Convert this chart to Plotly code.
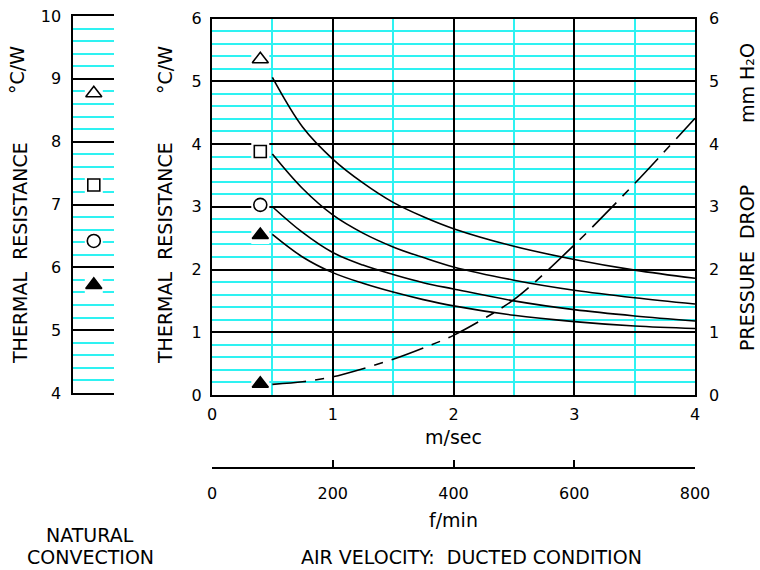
import plotly.graph_objects as go

# ---------------- data ----------------
vel_ms = [0.5, 0.75, 1.0, 1.25, 1.5, 1.75, 2.0, 2.5, 3.0, 3.5, 4.0]
rth_tri_open = [5.06, 4.27, 3.76, 3.38, 3.07, 2.84, 2.65, 2.37, 2.16, 1.99, 1.86]
rth_square = [3.84, 3.29, 2.87, 2.58, 2.36, 2.19, 2.04, 1.83, 1.67, 1.55, 1.45]
rth_circle = [3.00, 2.59, 2.27, 2.07, 1.92, 1.79, 1.69, 1.50, 1.36, 1.26, 1.18]
rth_tri_fill = [2.56, 2.20, 1.95, 1.78, 1.64, 1.52, 1.42, 1.27, 1.17, 1.10, 1.06]
pressure_drop = [0.17, 0.21, 0.29, 0.42, 0.57, 0.75, 0.95, 1.52, 2.39, 3.37, 4.41]

key_x = [0.4, 0.4, 0.4, 0.4, 0.4]
key_values = [5.35, 3.88, 3.03, 2.55, 0.18]
key_symbols = ["triangle-up-open", "square-open", "circle-open", "triangle-up", "triangle-up"]
key_sizes = [14, 12, 13, 14, 14]

nat_x = [0.5, 0.5, 0.5, 0.5]
nat_values = [8.77, 7.31, 6.42, 5.72]
nat_symbols = ["triangle-up-open", "square-open", "circle-open", "triangle-up"]
nat_sizes = [14, 12, 13, 14]

ms_ticks = [0, 1, 2, 3, 4]
fmin_ticks = [0, 200, 400, 600, 800]

# ---------------- helpers ----------------
W, H = 760, 570
FONT = "DejaVu Sans"
CYAN = "#2EF2F2"


def px(x):
    return x / W


def py(y):
    return 1 - y / H


fig = go.Figure()

# curves
for vals in [rth_tri_open, rth_square, rth_circle, rth_tri_fill]:
    fig.add_trace(go.Scatter(x=vel_ms, y=vals, mode="lines", xaxis="x", yaxis="y",
                             line=dict(color="black", width=1.6, shape="spline", smoothing=1.0),
                             showlegend=False, hoverinfo="skip"))

fig.add_trace(go.Scatter(x=vel_ms, y=pressure_drop, mode="lines", xaxis="x", yaxis="y4",
                         line=dict(color="black", width=1.6, shape="spline", smoothing=0.8,
                                   dash="34px,9px,9px,9px"),
                         showlegend=False, hoverinfo="skip"))

# key markers with white backing
fig.add_trace(go.Scatter(x=key_x, y=key_values, mode="markers", xaxis="x", yaxis="y",
                         marker=dict(symbol="square", size=18, color="white", opacity=1,
                                     line=dict(width=0)),
                         showlegend=False, hoverinfo="skip"))
fig.add_trace(go.Scatter(x=key_x, y=key_values, mode="markers", xaxis="x", yaxis="y",
                         marker=dict(symbol=key_symbols, size=key_sizes, color="black", opacity=1,
                                     line=dict(color="black", width=1.6)),
                         showlegend=False, hoverinfo="skip"))

fig.add_trace(go.Scatter(x=nat_x, y=nat_values, mode="markers", xaxis="x2", yaxis="y2",
                         marker=dict(symbol="square", size=18, color="white", opacity=1,
                                     line=dict(width=0)),
                         showlegend=False, hoverinfo="skip"))
fig.add_trace(go.Scatter(x=nat_x, y=nat_values, mode="markers", xaxis="x2", yaxis="y2",
                         marker=dict(symbol=nat_symbols, size=nat_sizes, color="black", opacity=1,
                                     line=dict(color="black", width=1.6)),
                         showlegend=False, hoverinfo="skip"))

# dummy trace for the f/min scale
fig.add_trace(go.Scatter(x=[None], y=[None], xaxis="x3", yaxis="y3", mode="markers",
                         showlegend=False, hoverinfo="skip"))

tickfont = dict(family=FONT, size=16, color="black")

main_x_dom = [px(212), px(695)]

fig.update_layout(
    template="none",
    width=W, height=H,
    margin=dict(l=0, r=0, t=0, b=0, pad=0, autoexpand=False),
    paper_bgcolor="white", plot_bgcolor="white",
    font=dict(family=FONT, size=16, color="black"),
    hovermode=False,
    xaxis=dict(domain=main_x_dom, anchor="y", range=[0, 4], tickvals=ms_ticks,
               showgrid=True, gridcolor="black", gridwidth=1.8,
               minor=dict(dtick=0.5, showgrid=True, gridcolor=CYAN, gridwidth=1.6),
               showline=True, linecolor="black", linewidth=2, mirror=True, automargin=False,
               ticks="", zeroline=False, tickfont=tickfont, ticklabelstandoff=4),
    yaxis=dict(domain=[py(395), py(18.5)], anchor="x", range=[0, 6], dtick=1,
               showgrid=True, gridcolor="black", gridwidth=1.8,
               minor=dict(dtick=0.2, showgrid=True, gridcolor=CYAN, gridwidth=1.6),
               showline=True, linecolor="black", linewidth=2, mirror=True, automargin=False,
               ticks="", zeroline=False, tickfont=tickfont, ticklabelstandoff=5),
    yaxis4=dict(overlaying="y", side="right", anchor="x", range=[0, 6], dtick=1,
                showgrid=False, zeroline=False, showline=False, ticks="", automargin=False,
                tickfont=tickfont, ticklabelstandoff=13),
    xaxis2=dict(domain=[px(73.3), px(114.3)], anchor="y2", range=[0, 1],
                showticklabels=False, showgrid=False, zeroline=False, automargin=False,
                showline=True, linecolor="black", linewidth=2, mirror=True, ticks=""),
    yaxis2=dict(domain=[py(393), py(16)], anchor="x2", range=[4, 10], dtick=1,
                showgrid=True, gridcolor="black", gridwidth=1.8,
                minor=dict(dtick=0.2, showgrid=True, gridcolor=CYAN, gridwidth=1.6),
                showline=True, linecolor="black", linewidth=2, mirror=False, automargin=False,
                ticks="", zeroline=False, tickfont=tickfont, ticklabelstandoff=7),
    xaxis3=dict(domain=main_x_dom, anchor="y3", range=[0, 800], tickvals=fmin_ticks,
                showgrid=False, zeroline=False, showline=True, linecolor="black",
                linewidth=1.6, ticks="inside", ticklen=7, tickwidth=1.6, tickcolor="black",
                automargin=False, tickfont=tickfont, ticklabelstandoff=11),
    yaxis3=dict(domain=[py(467), py(458)], anchor="x3", range=[0, 1], visible=False,
                automargin=False),
)

NB = "\u00a0"
TITLE = 19
ann = [
    dict(x=px(20), y=py(253), text=f"THERMAL{NB}{NB}RESISTANCE", textangle=-90),
    dict(x=px(17), y=py(70), text="°C/W", textangle=-90),
    dict(x=px(165), y=py(253), text=f"THERMAL{NB}{NB}RESISTANCE", textangle=-90),
    dict(x=px(165), y=py(70), text="°C/W", textangle=-90),
    dict(x=px(747), y=py(268), text=f"PRESSURE{NB}{NB}DROP", textangle=-90),
    dict(x=px(747), y=py(83), text="mm H₂O", textangle=-90),
    dict(x=px(453), y=py(437), text="m/sec"),
    dict(x=px(453), y=py(520), text="f/min"),
    dict(x=px(471), y=py(557), text=f"AIR VELOCITY:{NB}{NB}DUCTED CONDITION"),
    dict(x=px(90), y=py(535), text="NATURAL"),
    dict(x=px(90), y=py(557), text="CONVECTION"),
]
for a in ann:
    a.update(xref="paper", yref="paper", showarrow=False, xanchor="center", yanchor="middle",
             font=dict(family=FONT, size=TITLE, color="black"))
fig.update_layout(annotations=ann)

fig.write_html("out.html", config={"responsive": False, "displayModeBar": False},
               post_script="document.body.style.margin='0px';")
